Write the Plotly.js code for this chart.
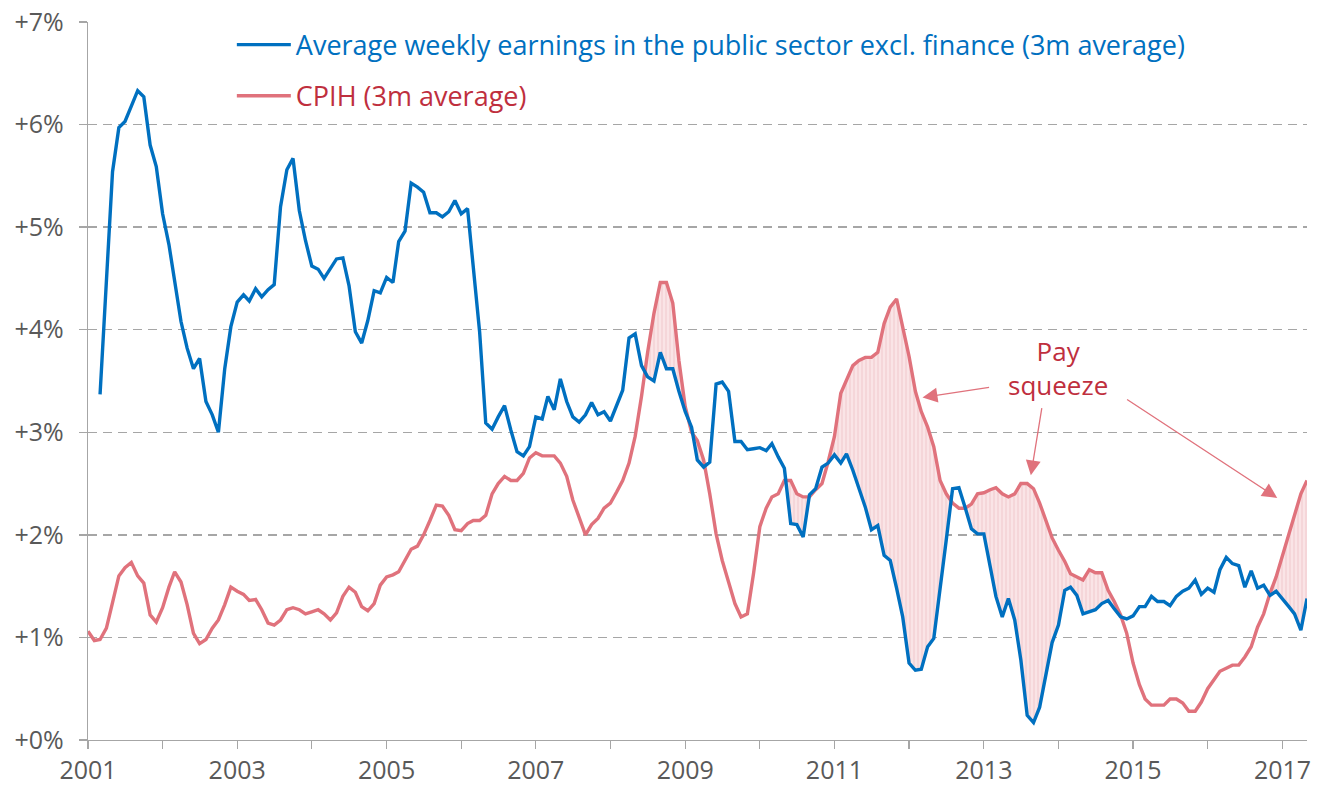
<!DOCTYPE html>
<html>
<head>
<meta charset="utf-8">
<script src="https://cdn.plot.ly/plotly-3.0.1.min.js"></script>
<style>
html,body{margin:0;padding:0;background:#ffffff;}
#chart{width:1319px;height:786px;}
</style>
</head>
<body>
<div id="chart"></div>
<script>
// ---- Data (monthly, starting January 2001) ----
const firstYear = 2001;
const firstMonth = 0; // January

// CPIH, 3-month average, % y/y
const cpih = [
  1.06, 0.97, 0.98, 1.09, 1.34, 1.60, 1.68, 1.73, 1.60, 1.53, 1.22, 1.15,
  1.29, 1.49, 1.64, 1.54, 1.32, 1.04, 0.94, 0.98, 1.09, 1.17, 1.32, 1.49,
  1.45, 1.42, 1.36, 1.37, 1.27, 1.14, 1.12, 1.17, 1.27, 1.29, 1.27, 1.23,
  1.25, 1.27, 1.23, 1.17, 1.24, 1.40, 1.49, 1.44, 1.30, 1.26, 1.33, 1.51,
  1.59, 1.61, 1.64, 1.75, 1.86, 1.89, 2.00, 2.14, 2.29, 2.28, 2.19, 2.05,
  2.04, 2.11, 2.14, 2.14, 2.19, 2.40, 2.50, 2.57, 2.53, 2.53, 2.60, 2.75,
  2.80, 2.77, 2.77, 2.77, 2.70, 2.57, 2.34, 2.16, 2.00, 2.10, 2.16, 2.26,
  2.31, 2.42, 2.53, 2.70, 2.96, 3.35, 3.78, 4.16, 4.46, 4.46, 4.26, 3.70,
  3.25, 3.00, 2.92, 2.73, 2.40, 2.01, 1.75, 1.54, 1.33, 1.20, 1.23, 1.62,
  2.08, 2.26, 2.37, 2.40, 2.53, 2.53, 2.40, 2.37, 2.37, 2.44, 2.50, 2.71,
  2.96, 3.38, 3.51, 3.65, 3.70, 3.73, 3.73, 3.78, 4.06, 4.22, 4.30, 4.03,
  3.74, 3.40, 3.20, 3.05, 2.86, 2.53, 2.40, 2.31, 2.26, 2.26, 2.30, 2.40,
  2.41, 2.44, 2.46, 2.40, 2.37, 2.40, 2.50, 2.50, 2.45, 2.31, 2.14, 1.97,
  1.85, 1.74, 1.62, 1.59, 1.56, 1.66, 1.63, 1.63, 1.46, 1.35, 1.22, 1.04,
  0.75, 0.54, 0.40, 0.34, 0.34, 0.34, 0.40, 0.40, 0.36, 0.28, 0.28, 0.37,
  0.50, 0.59, 0.67, 0.70, 0.73, 0.73, 0.81, 0.91, 1.10, 1.23, 1.43, 1.59,
  1.80, 2.01, 2.19, 2.40, 2.53
];

// Average weekly earnings, public sector excl. finance, 3-month average, % y/y
const earnings = [
  null, null, 3.37, 4.45, 5.54, 5.97, 6.03, 6.18, 6.33, 6.27, 5.80, 5.59,
  5.13, 4.83, 4.46, 4.08, 3.82, 3.62, 3.72, 3.30, 3.17, 3.00, 3.62, 4.03,
  4.27, 4.34, 4.28, 4.40, 4.32, 4.39, 4.44, 5.20, 5.56, 5.67, 5.16, 4.87,
  4.62, 4.59, 4.50, 4.60, 4.69, 4.70, 4.43, 3.98, 3.87, 4.09, 4.38, 4.36,
  4.51, 4.46, 4.86, 4.96, 5.43, 5.39, 5.34, 5.14, 5.14, 5.10, 5.15, 5.26,
  5.13, 5.18, 4.58, 3.98, 3.09, 3.03, 3.15, 3.26, 3.02, 2.81, 2.77, 2.86,
  3.15, 3.13, 3.35, 3.22, 3.52, 3.30, 3.15, 3.10, 3.17, 3.29, 3.17, 3.20,
  3.11, 3.27, 3.41, 3.92, 3.96, 3.65, 3.54, 3.50, 3.78, 3.62, 3.62, 3.40,
  3.20, 3.05, 2.73, 2.66, 2.71, 3.47, 3.49, 3.40, 2.91, 2.91, 2.83, 2.84,
  2.85, 2.82, 2.89, 2.76, 2.65, 2.11, 2.10, 1.98, 2.39, 2.45, 2.66, 2.70,
  2.78, 2.70, 2.79, 2.63, 2.45, 2.27, 2.05, 2.09, 1.80, 1.75, 1.48, 1.20,
  0.75, 0.68, 0.69, 0.91, 0.99, 1.45, 1.95, 2.45, 2.46, 2.27, 2.06, 2.01,
  2.01, 1.69, 1.40, 1.20, 1.38, 1.17, 0.78, 0.24, 0.17, 0.32, 0.62, 0.95,
  1.12, 1.46, 1.49, 1.41, 1.23, 1.25, 1.27, 1.33, 1.36, 1.28, 1.20, 1.18,
  1.21, 1.30, 1.30, 1.40, 1.35, 1.35, 1.31, 1.40, 1.45, 1.48, 1.56, 1.42,
  1.48, 1.44, 1.66, 1.78, 1.72, 1.70, 1.49, 1.65, 1.48, 1.51, 1.41, 1.45,
  1.38, 1.30, 1.23, 1.07, 1.38
];

const seriesNames = [
  'Average weekly earnings in the public sector excl. finance (3m average)',
  'CPIH (3m average)'
];
const annotationText = 'Pay<br>squeeze';

// ---- Helpers ----
function pad(n){ return (n < 10 ? '0' : '') + n; }
function msToStr(ms){
  const d = new Date(ms);
  return d.getUTCFullYear() + '-' + pad(d.getUTCMonth()+1) + '-' + pad(d.getUTCDate()) +
    ' ' + pad(d.getUTCHours()) + ':' + pad(d.getUTCMinutes()) + ':' + pad(d.getUTCSeconds());
}
function fracYear(y){
  const yr = Math.floor(y);
  const s = Date.UTC(yr, 0, 1), e = Date.UTC(yr + 1, 0, 1);
  return msToStr(s + (y - yr) * (e - s));
}

const n = cpih.length;
const ms = [];
for (let i = 0; i < n; i++) ms.push(Date.UTC(firstYear, firstMonth + i, 1));
const dates = ms.map(msToStr);

// Fill band between earnings and CPIH where CPIH > earnings (crossings inserted)
const fx = [], fLow = [], fHigh = [];
for (let i = 0; i < n; i++) {
  const b = earnings[i], r = cpih[i];
  if (b === null) continue;
  fx.push(ms[i]); fLow.push(b); fHigh.push(Math.max(b, r));
  if (i + 1 < n && earnings[i+1] !== null) {
    const d0 = r - b, d1 = cpih[i+1] - earnings[i+1];
    if ((d0 > 0 && d1 < 0) || (d0 < 0 && d1 > 0)) {
      const f = d0 / (d0 - d1);
      const tc = ms[i] + f * (ms[i+1] - ms[i]);
      const yc = b + f * (earnings[i+1] - b);
      fx.push(tc); fLow.push(yc); fHigh.push(yc);
    }
  }
}
const fxs = fx.map(msToStr);

const BLUE = '#0070C0';
const RED_LINE = '#E0727C';
const RED_TEXT = '#BF2F3E';
const FONT = '"Open Sans", Lato, sans-serif';

const traces = [
  {
    x: fxs, y: fLow, type: 'scatter', mode: 'lines',
    line: {width: 0, color: 'rgba(0,0,0,0)'},
    showlegend: false, hoverinfo: 'skip'
  },
  {
    x: fxs, y: fHigh, type: 'scatter', mode: 'lines',
    line: {width: 0, color: 'rgba(0,0,0,0)'},
    fill: 'tonexty',
    fillcolor: '#FAE3E5',
    fillpattern: {shape: '|', bgcolor: '#FAE4E6', fgcolor: '#F2CDD1', size: 4, solidity: 0.3},
    showlegend: false, hoverinfo: 'skip'
  },
  {
    x: dates, y: cpih, type: 'scatter', mode: 'lines',
    name: '<span style="color:' + RED_TEXT + '">' + seriesNames[1] + '</span>',
    line: {color: RED_LINE, width: 3.4},
    legendgroup: 'b', legendrank: 2
  },
  {
    x: dates, y: earnings, type: 'scatter', mode: 'lines',
    name: '<span style="color:' + BLUE + '">' + seriesNames[0] + '</span>',
    line: {color: BLUE, width: 3.4},
    connectgaps: false,
    legendgroup: 'a', legendrank: 1
  }
];

const arrowStyle = {
  text: '', showarrow: true, arrowhead: 2, arrowsize: 2.3, arrowwidth: 1.3,
  arrowcolor: RED_LINE, axref: 'x', ayref: 'y', xref: 'x', yref: 'y', standoff: 0, startstandoff: 0
};

const layout = {
  width: 1319, height: 786,
  margin: {l: 88, r: 12, t: 22, b: 46},
  paper_bgcolor: '#ffffff', plot_bgcolor: '#ffffff',
  font: {family: FONT, color: '#595959'},
  showlegend: true,
  legend: {
    x: 0.118, xanchor: 'left', y: 1.002, yanchor: 'top',
    bgcolor: 'rgba(0,0,0,0)', borderwidth: 0,
    font: {family: FONT, size: 27},
    traceorder: 'grouped', tracegroupgap: 13, itemwidth: 54
  },
  xaxis: {
    type: 'date',
    range: [dates[0], dates[n-1]],
    tick0: dates[0], dtick: 'M24', tickformat: '%Y',
    ticks: 'outside', ticklen: 8, tickcolor: '#A6A6A6', tickwidth: 1.3,
    minor: {dtick: 'M12', ticks: 'outside', ticklen: 8, tickcolor: '#A6A6A6', tickwidth: 1.3, showgrid: false},
    showline: true, linecolor: '#A6A6A6', linewidth: 1.3,
    showgrid: false, zeroline: false,
    tickfont: {family: FONT, size: 25, color: '#595959'}
  },
  yaxis: {
    range: [0, 7], dtick: 1, tick0: 0,
    tickprefix: '+', ticksuffix: '%',
    ticks: 'outside', ticklen: 8, tickcolor: '#A6A6A6', tickwidth: 1.3,
    showline: true, linecolor: '#A6A6A6', linewidth: 1.3,
    showgrid: true, gridcolor: '#A6A6A6', gridwidth: 1.5, griddash: '9px,6px',
    zeroline: false,
    ticklabelstandoff: 10,
    tickfont: {family: FONT, size: 25, color: '#595959'}
  },
  annotations: [
    {
      text: annotationText, x: fracYear(2014.0), y: 3.63, xref: 'x', yref: 'y',
      showarrow: false, font: {family: FONT, size: 26, color: RED_TEXT}, align: 'center'
    },
    Object.assign({}, arrowStyle, {x: fracYear(2012.18), y: 3.34, ax: fracYear(2013.09), ay: 3.44}),
    Object.assign({}, arrowStyle, {x: fracYear(2013.63), y: 2.58, ax: fracYear(2013.78), ay: 3.25}),
    Object.assign({}, arrowStyle, {x: fracYear(2016.93), y: 2.36, ax: fracYear(2014.90), ay: 3.33})
  ]
};

Plotly.newPlot('chart', traces, layout, {displayModeBar: false, staticPlot: true});
</script>
</body>
</html>
